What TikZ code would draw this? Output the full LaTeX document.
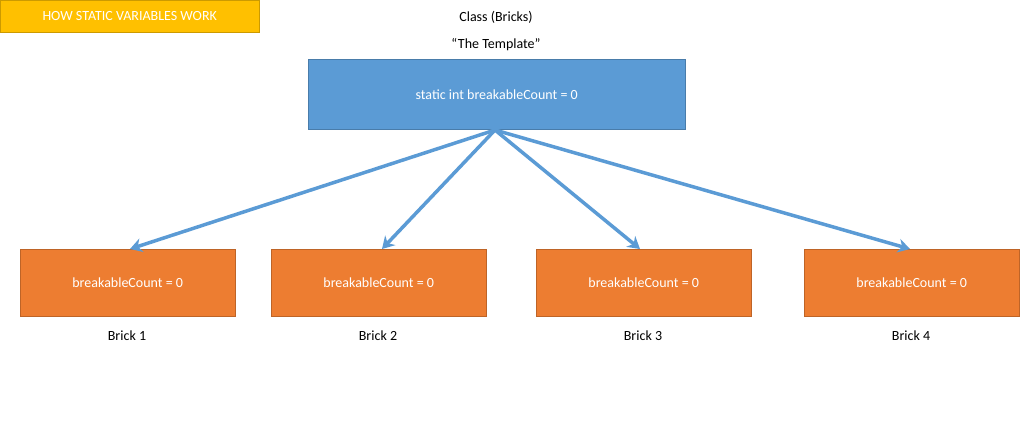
\documentclass[tikz,border=0pt]{standalone}
\usepackage{fontspec}
\setmainfont{Carlito}
\usetikzlibrary{arrows.meta}
\definecolor{gold}{HTML}{FFC000}
\definecolor{cblue}{HTML}{5B9BD5}
\definecolor{corange}{HTML}{ED7D31}
\begin{document}
\begin{tikzpicture}[x=1pt,y=-1pt,
  obj/.style={draw=corange!80!black,fill=corange,text=white,minimum width=215pt,minimum height=67pt,font=\fontsize{14}{16}\selectfont,anchor=north west},
  lbl/.style={font=\fontsize{14}{16}\selectfont},
  arr/.style={draw=cblue,line width=3.5pt,-{Stealth[length=12pt,width=14pt]}}]
\useasboundingbox (0,0) rectangle (1033,426);
\node[draw=gold!80!black,fill=gold,text=white,minimum width=259pt,minimum height=32pt,anchor=north west,font=\fontsize{14}{16}\selectfont] (title) at (0,0) {HOW STATIC VARIABLES WORK};
\node[lbl] (cls) at (496,17) {Class (Bricks)};
\node[lbl] (tpl) at (496,45) {“The Template”};
\node[draw=cblue!80!black,fill=cblue,text=white,minimum width=377pt,minimum height=70pt,anchor=north west,font=\fontsize{14}{16}\selectfont] (class) at (308,59) {static int breakableCount = 0};
\node[obj] (b1) at (20,249) {breakableCount = 0};
\node[obj] (b2) at (271,249) {breakableCount = 0};
\node[obj] (b3) at (536,249) {breakableCount = 0};
\node[obj] (b4) at (804,249) {breakableCount = 0};
\node[lbl] (l1) at (127,336) {Brick 1};
\node[lbl] (l2) at (378,336) {Brick 2};
\node[lbl] (l3) at (643,336) {Brick 3};
\node[lbl] (l4) at (911,336) {Brick 4};
\coordinate (s) at (495,130);
\draw[arr] (s) -- (b1.north -| 130,0);
\draw[arr] (s) -- (b2.north -| 382,0);
\draw[arr] (s) -- (b3.north -| 640,0);
\draw[arr] (s) -- (b4.north -| 910,0);
\end{tikzpicture}
\end{document}
